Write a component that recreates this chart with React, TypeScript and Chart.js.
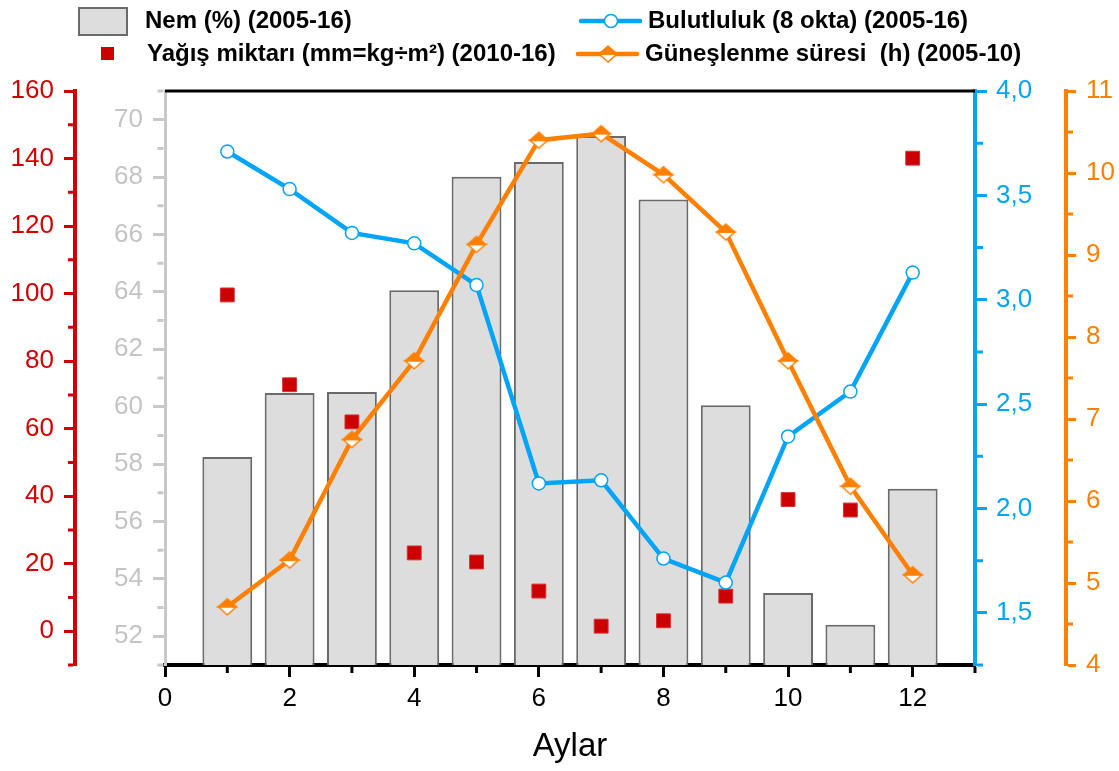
import React, { useEffect, useRef } from 'react';
import { Chart, registerables } from 'chart.js';

Chart.register(...registerables);

// ---------- data ----------
const months = [1, 2, 3, 4, 5, 6, 7, 8, 9, 10, 11, 12];
const nem = [58.25, 60.48, 60.51, 64.06, 68.01, 68.53, 69.43, 67.22, 60.05, 53.51, 52.4, 57.14];
const yagis = [99.6, 73.0, 62.0, 23.2, 20.5, 11.9, 1.5, 3.1, 10.4, 39.0, 35.9, 140.1];
const bulut = [3.71, 3.53, 3.32, 3.27, 3.07, 2.12, 2.135, 1.76, 1.645, 2.345, 2.56, 3.13];
const gunes = [4.71, 5.28, 6.75, 7.71, 9.13, 10.4, 10.48, 9.98, 9.28, 7.71, 6.18, 5.1];

const xTicks = [0, 2, 4, 6, 8, 10, 12];
const xMinor = [1, 3, 5, 7, 9, 11, 13];
const redTicks = [0, 20, 40, 60, 80, 100, 120, 140, 160];
const redMinor = [-10, 10, 30, 50, 70, 90, 110, 130, 150];
const nemTicks = [52, 54, 56, 58, 60, 62, 64, 66, 68, 70];
const nemMinor = [51, 53, 55, 57, 59, 61, 63, 65, 67, 69, 71];
const blueTicks = [1.5, 2.0, 2.5, 3.0, 3.5, 4.0];
const blueMinor = [1.25, 1.75, 2.25, 2.75, 3.25, 3.75];
const orangeTicks = [4, 5, 6, 7, 8, 9, 10, 11];
const orangeMinor = [4.5, 5.5, 6.5, 7.5, 8.5, 9.5, 10.5];

const xTitle = 'Aylar';
const legendNem = 'Nem (%) (2005-16)';
const legendYagis = 'Yağış miktarı (mm=kg÷m²) (2010-16)';
const legendBulut = 'Bulutluluk (8 okta) (2005-16)';
const legendGunes = 'Güneşlenme süresi  (h) (2005-10)';

// ---------- styles ----------
const FONT = '"Liberation Sans", Arial, Helvetica, sans-serif';
const RED = '#d40000';
const GREY_TXT = '#c4c4c4';
const GREY_AXIS = '#c8c8c8';
const BLUE = '#00a4f8';
const ORANGE = '#ff8000';
const BAR_FILL = '#dddddd';
const BAR_BORDER = '#6a6a6a';

function makeDiamond(): HTMLCanvasElement {
  const w = 22, h = 20;
  const c = document.createElement('canvas');
  c.width = w;
  c.height = h;
  const g = c.getContext('2d')!;
  const cx = w / 2, cy = h / 2, hw = 9, hh = 8;
  g.lineWidth = 1.5;
  g.strokeStyle = ORANGE;
  g.beginPath();
  g.moveTo(cx - hw, cy);
  g.lineTo(cx, cy + hh);
  g.lineTo(cx + hw, cy);
  g.closePath();
  g.fillStyle = '#ffffff';
  g.fill();
  g.stroke();
  g.beginPath();
  g.moveTo(cx - hw, cy);
  g.lineTo(cx, cy - hh);
  g.lineTo(cx + hw, cy);
  g.closePath();
  g.fillStyle = ORANGE;
  g.fill();
  g.stroke();
  return c;
}

const toXY = (ys: number[]) => months.map((m, i) => ({ x: m, y: ys[i] }));

const minorCfg: Record<string, { values: number[]; len: number; color: string; width: number; border: number }> = {
  x: { values: xMinor, len: 6, color: '#000000', width: 3, border: 4 },
  yRed: { values: redMinor, len: 5, color: RED, width: 3, border: 4 },
  yNem: { values: nemMinor, len: 6, color: GREY_AXIS, width: 3, border: 3 },
  yBlue: { values: blueMinor, len: 6, color: BLUE, width: 3, border: 4 },
  yOrange: { values: orangeMinor, len: 5, color: ORANGE, width: 3, border: 4 },
};

export default function App() {
  const ref = useRef<HTMLCanvasElement>(null);

  useEffect(() => {
    document.body.style.margin = '0';
    document.body.style.overflow = 'hidden';
    const diamond = makeDiamond();
    const tickFont = { family: FONT, size: 26 };

    const extras = {
      id: 'extras',
      afterDraw(chart: any) {
        const ctx = chart.ctx as CanvasRenderingContext2D;
        const area = chart.chartArea;
        ctx.save();
        // top frame line
        ctx.strokeStyle = '#000';
        ctx.lineWidth = 3;
        ctx.beginPath();
        ctx.moveTo(area.left, area.top);
        ctx.lineTo(area.right, area.top);
        ctx.stroke();

        // minor ticks
        for (const id of Object.keys(minorCfg)) {
          const s = chart.scales[id];
          const cfg = minorCfg[id];
          ctx.strokeStyle = cfg.color;
          ctx.lineWidth = cfg.width;
          ctx.beginPath();
          for (const v of cfg.values) {
            const p = s.getPixelForValue(v);
            if (s.position === 'left') {
              const x0 = s.right - cfg.border / 2;
              ctx.moveTo(x0, p);
              ctx.lineTo(x0 - cfg.len, p);
            } else if (s.position === 'right') {
              const x0 = s.left + cfg.border / 2;
              ctx.moveTo(x0, p);
              ctx.lineTo(x0 + cfg.len, p);
            } else {
              const y0 = s.top + cfg.border / 2;
              ctx.moveTo(p, y0);
              ctx.lineTo(p, y0 + cfg.len);
            }
          }
          ctx.stroke();
        }

        // legend
        ctx.font = `bold 24px ${FONT}`;
        ctx.textBaseline = 'middle';
        ctx.textAlign = 'left';
        // Nem box
        ctx.fillStyle = BAR_FILL;
        ctx.fillRect(79, 8, 48, 27);
        ctx.strokeStyle = BAR_BORDER;
        ctx.lineWidth = 2;
        ctx.strokeRect(79, 8, 48, 27);
        ctx.fillStyle = '#000';
        ctx.fillText(legendNem, 145, 21);
        // Yagis square
        ctx.fillStyle = '#cc0000';
        ctx.fillRect(101, 47, 13, 13);
        ctx.fillStyle = '#000';
        ctx.fillText(legendYagis, 147, 54);
        // Bulut line
        ctx.strokeStyle = BLUE;
        ctx.lineWidth = 4.5;
        ctx.lineCap = 'round';
        ctx.beginPath();
        ctx.moveTo(581, 21);
        ctx.lineTo(640, 21);
        ctx.stroke();
        ctx.beginPath();
        ctx.arc(611, 21, 6.5, 0, Math.PI * 2);
        ctx.fillStyle = '#fff';
        ctx.fill();
        ctx.lineWidth = 1.5;
        ctx.stroke();
        ctx.fillStyle = '#000';
        ctx.fillText(legendBulut, 648, 21);
        // Gunes line
        ctx.strokeStyle = ORANGE;
        ctx.lineWidth = 4.5;
        ctx.beginPath();
        ctx.moveTo(578, 54);
        ctx.lineTo(637, 54);
        ctx.stroke();
        ctx.drawImage(diamond, 608 - diamond.width / 2, 54 - diamond.height / 2);
        ctx.fillStyle = '#000';
        ctx.fillText(legendGunes, 645, 54);
        ctx.restore();
      },
    };

    const chart = new Chart(ref.current!, {
      type: 'bar',
      data: {
        datasets: [
          {
            type: 'line',
            label: legendGunes,
            data: toXY(gunes),
            yAxisID: 'yOrange',
            borderColor: ORANGE,
            borderWidth: 4.5,
            pointStyle: diamond as any,
            pointRadius: 9,
            tension: 0,
            order: 1,
          } as any,
          {
            type: 'line',
            label: legendBulut,
            data: toXY(bulut),
            yAxisID: 'yBlue',
            borderColor: BLUE,
            borderWidth: 4.5,
            pointStyle: 'circle',
            pointRadius: 6.5,
            pointBorderWidth: 1.5,
            pointBackgroundColor: '#ffffff',
            pointBorderColor: BLUE,
            tension: 0,
            order: 2,
          },
          {
            type: 'line',
            label: legendYagis,
            data: toXY(yagis),
            yAxisID: 'yRed',
            showLine: false,
            pointStyle: 'rect',
            pointRadius: 9.8,
            pointBackgroundColor: '#cc0000',
            pointBorderColor: '#d83030',
            pointBorderWidth: 1,
            order: 3,
          },
          {
            type: 'bar',
            label: legendNem,
            data: toXY(nem),
            yAxisID: 'yNem',
            backgroundColor: BAR_FILL,
            borderColor: BAR_BORDER,
            borderWidth: 2,
            borderSkipped: 'start',
            base: 51,
            barPercentage: 0.8,
            categoryPercentage: 1.0,
            order: 4,
          } as any,
        ],
      },
      options: {
        responsive: true,
        maintainAspectRatio: false,
        animation: false,
        events: [],
        layout: { padding: { top: 91, left: 0, right: 0, bottom: 0 } },
        plugins: {
          legend: { display: false },
          tooltip: { enabled: false },
        },
        scales: {
          x: {
            type: 'linear',
            position: 'bottom',
            min: 0,
            max: 13,
            offset: false,
            afterBuildTicks: (s: any) => {
              s.ticks = xTicks.map((v) => ({ value: v }));
            },
            afterFit: (s: any) => {
              s.height = 106;
            },
            ticks: { color: '#000', font: tickFont, padding: 6, maxRotation: 0, autoSkip: false },
            grid: { drawOnChartArea: false, offset: false, tickLength: 12, tickWidth: 3, tickColor: '#000' },
            border: { display: true, color: '#000', width: 4 },
            title: {
              display: true,
              text: xTitle,
              color: '#000',
              font: { family: FONT, size: 33 },
              padding: { top: 0, bottom: 4 },
            },
          },
          yRed: {
            type: 'linear',
            position: 'left',
            weight: 2,
            min: -10,
            max: 160,
            afterBuildTicks: (s: any) => {
              s.ticks = redTicks.map((v) => ({ value: v }));
            },
            afterFit: (s: any) => {
              s.width = 75;
            },
            ticks: { color: RED, font: tickFont, padding: 10 },
            grid: { drawOnChartArea: false, tickLength: 11, tickWidth: 3, tickColor: RED },
            border: { display: true, color: RED, width: 4 },
          },
          yNem: {
            type: 'linear',
            position: 'left',
            weight: 1,
            min: 51,
            max: 71,
            afterBuildTicks: (s: any) => {
              s.ticks = nemTicks.map((v) => ({ value: v }));
            },
            afterFit: (s: any) => {
              s.width = 90;
            },
            ticks: { color: GREY_TXT, font: tickFont, padding: 10 },
            grid: { drawOnChartArea: false, tickLength: 12, tickWidth: 3, tickColor: GREY_AXIS },
            border: { display: true, color: GREY_AXIS, width: 3 },
          },
          yBlue: {
            type: 'linear',
            position: 'right',
            weight: 1,
            min: 1.25,
            max: 4,
            afterBuildTicks: (s: any) => {
              s.ticks = blueTicks.map((v) => ({ value: v }));
            },
            afterFit: (s: any) => {
              s.width = 91;
            },
            ticks: {
              color: BLUE,
              font: tickFont,
              padding: 9,
              callback: (v: any) => Number(v).toFixed(1).replace('.', ','),
            },
            grid: { drawOnChartArea: false, tickLength: 12, tickWidth: 3, tickColor: BLUE },
            border: { display: true, color: BLUE, width: 4 },
          },
          yOrange: {
            type: 'linear',
            position: 'right',
            weight: 2,
            min: 4,
            max: 11,
            afterBuildTicks: (s: any) => {
              s.ticks = orangeTicks.map((v) => ({ value: v }));
            },
            afterFit: (s: any) => {
              s.width = 53;
            },
            ticks: { color: ORANGE, font: tickFont, padding: 10 },
            grid: { drawOnChartArea: false, tickLength: 10, tickWidth: 3, tickColor: ORANGE },
            border: { display: true, color: ORANGE, width: 4 },
          },
        } as any,
      },
      plugins: [extras],
    });

    return () => chart.destroy();
  }, []);

  return (
    <div style={{ width: 1119, height: 771, position: 'relative' }}>
      <canvas ref={ref} style={{ display: 'block' }} />
    </div>
  );
}
